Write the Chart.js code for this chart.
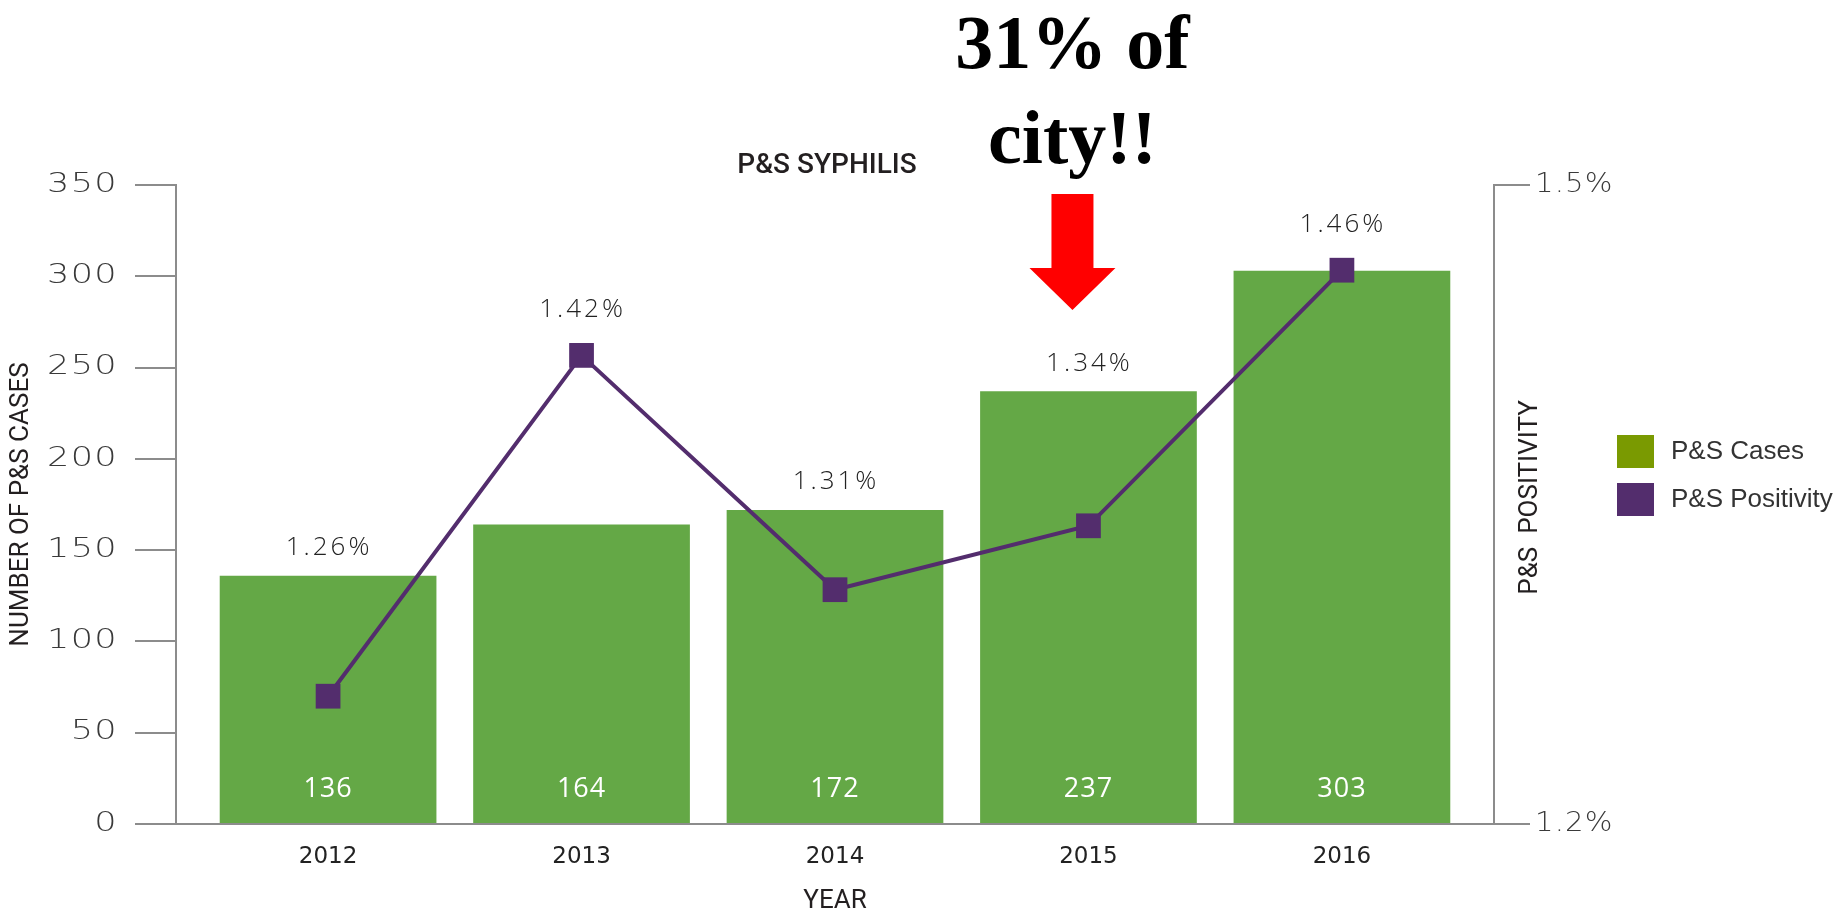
<!DOCTYPE html>
<html>
<head>
<meta charset="utf-8">
<script src="https://cdn.jsdelivr.net/npm/chart.js@4.4.1/dist/chart.umd.min.js"></script>
<style>
  html, body { margin: 0; padding: 0; background: #fff; }
  #wrap { width: 1844px; height: 917px; position: relative; }
</style>
</head>
<body>
<div id="wrap"><canvas id="chart"></canvas></div>
<script>
// ===== DATA =====
const years = [2012, 2013, 2014, 2015, 2016];
const cases = [136, 164, 172, 237, 303];
const positivity = [1.26, 1.42, 1.31, 1.34, 1.46];
const caseTicks = [0, 50, 100, 150, 200, 250, 300, 350];
const positivityTicks = [1.2, 1.5];
const seriesNames = ['P&S Cases', 'P&S Positivity'];
const legendColors = ['#7a9a01', '#532d6d'];
const calloutYear = 2015;
const calloutLines = ['31% of', 'city!!'];

const GREEN = '#64a846';
const PURPLE = '#532d6d';
const AXIS = '#8c8c8c';
const INK = '#231f20';

// draw text stretched horizontally (the original uses a wide face)
function wideText(ctx, text, x, y, sx) {
  ctx.save();
  ctx.translate(x, y);
  ctx.scale(sx, 1);
  ctx.fillText(text, 0, 0);
  ctx.restore();
}

// ===== OVERLAY: labels, titles, legend, callout =====
const overlay = {
  id: 'overlay',
  afterDatasetsDraw(chart) {
    const { ctx, scales: { x, y, y1 } } = chart;
    ctx.save();
    ctx.textAlign = 'center';
    ctx.textBaseline = 'middle';

    // counts inside bars
    ctx.fillStyle = '#fff';
    ctx.font = '500 27px "Open Sans"';
    ctx.letterSpacing = '1px';
    years.forEach((yr, i) => {
      ctx.fillText(String(cases[i]), x.getPixelForValue(yr), y.getPixelForValue(0) - 35);
    });

    // positivity labels, above whichever is higher: bar or marker
    ctx.fillStyle = '#222';
    ctx.font = '300 26px "Open Sans"';
    ctx.letterSpacing = '3px';
    years.forEach((yr, i) => {
      const ly = Math.min(y.getPixelForValue(cases[i]) - 28, y1.getPixelForValue(positivity[i]) - 46);
      ctx.fillText(positivity[i].toFixed(2) + '%', x.getPixelForValue(yr) + 1, ly);
    });
    ctx.restore();
  },
  afterDraw(chart) {
    const { ctx, chartArea: a, scales: { x, y, y1 } } = chart;
    ctx.save();
    ctx.textBaseline = 'middle';

    // y tick labels
    ctx.fillStyle = '#3a3a3a';
    ctx.font = '300 26px "DejaVu Sans"';
    ctx.letterSpacing = '1px';
    ctx.textAlign = 'right';
    y.ticks.forEach(t => wideText(ctx, String(t.value), a.left - 58, y.getPixelForValue(t.value), 1.35));
    ctx.textAlign = 'left';
    y1.ticks.forEach(t => wideText(ctx, t.value.toFixed(1) + '%', a.right + 41, y1.getPixelForValue(t.value), 1.12));
    ctx.letterSpacing = '0px';

    // chart title
    ctx.textAlign = 'center';
    ctx.fillStyle = INK;
    ctx.font = '500 28px Roboto';
    ctx.fillText('P&S SYPHILIS', (a.left + a.right) / 2 - 8, a.top - 19);

    // right axis title (sits inside the tick label band)
    ctx.save();
    ctx.translate(a.right + 36, (a.top + a.bottom) / 2 - 7);
    ctx.rotate(-Math.PI / 2);
    ctx.font = '26px Roboto';
    ctx.fillText('P&S  POSITIVITY', 0, 0);
    ctx.restore();

    // legend
    ctx.textAlign = 'left';
    ctx.font = '26px "Liberation Sans"';
    seriesNames.forEach((name, i) => {
      const top = a.top + 250 + i * 48;
      ctx.fillStyle = legendColors[i];
      ctx.fillRect(a.right + 123, top, 37, 33);
      ctx.fillStyle = '#333';
      ctx.fillText(name, a.right + 177, top + 17);
    });

    // callout text + arrow
    const cx = x.getPixelForValue(calloutYear) - 16;
    ctx.textBaseline = 'alphabetic';
    ctx.textAlign = 'center';
    ctx.fillStyle = '#000';
    ctx.font = 'bold 76px "Liberation Serif"';
    ctx.fillText(calloutLines[0], cx, 68);
    ctx.fillText(calloutLines[1], cx, 163);

    ctx.fillStyle = '#ff0000';
    ctx.beginPath();
    ctx.moveTo(cx - 21, 194);
    ctx.lineTo(cx + 21, 194);
    ctx.lineTo(cx + 21, 268);
    ctx.lineTo(cx + 43, 268);
    ctx.lineTo(cx, 310);
    ctx.lineTo(cx - 43, 268);
    ctx.lineTo(cx - 21, 268);
    ctx.closePath();
    ctx.fill();
    ctx.restore();
  }
};

// ===== CHART =====
const ctx = document.getElementById('chart').getContext('2d');

new Chart(ctx, {
  type: 'bar',
  data: {
    datasets: [
      {
        type: 'line',
        label: seriesNames[1],
        data: years.map((yr, i) => ({ x: yr, y: positivity[i] })),
        yAxisID: 'y1',
        borderColor: PURPLE,
        borderWidth: 4,
        pointStyle: 'rect',
        pointRadius: 17.5,
        pointBorderWidth: 0,
        pointBackgroundColor: PURPLE,
        tension: 0,
        order: 0,
      },
      {
        label: seriesNames[0],
        data: years.map((yr, i) => ({ x: yr, y: cases[i] })),
        yAxisID: 'y',
        backgroundColor: GREEN,
        barPercentage: 0.855,
        categoryPercentage: 1,
        order: 1,
      }
    ]
  },
  options: {
    responsive: true,
    maintainAspectRatio: false,
    animation: false,
    layout: { padding: { top: 185, left: 0, right: 0, bottom: 0 } },
    plugins: {
      legend: { display: false },
      tooltip: { enabled: false },
    },
    scales: {
      x: {
        type: 'linear',
        position: 'bottom',
        min: 2011.4,
        max: 2016.6,
        offset: false,
        afterBuildTicks: s => { s.ticks = years.map(v => ({ value: v })); },
        afterFit: s => { s.height = 93; },
        grid: { display: false, drawTicks: false, offset: false },
        border: { display: true, color: AXIS, width: 2 },
        ticks: {
          padding: 19,
          color: '#222',
          font: { family: 'DejaVu Sans', size: 23 },
          callback: v => String(v),
        },
        title: {
          display: true,
          text: 'YEAR',
          color: INK,
          font: { family: 'Roboto', size: 26 },
          padding: { top: 0, bottom: 0 },
        }
      },
      y: {
        type: 'linear',
        position: 'left',
        min: 0,
        max: 350,
        afterBuildTicks: s => { s.ticks = caseTicks.map(v => ({ value: v })); },
        afterFit: s => { s.width = 176; },
        grid: { drawOnChartArea: false, drawTicks: true, tickLength: 41, color: AXIS, lineWidth: 2 },
        border: { display: true, color: AXIS, width: 2 },
        ticks: { display: false },
        title: {
          display: true,
          text: 'NUMBER OF P&S CASES',
          color: INK,
          font: { family: 'Roboto', size: 26 },
          padding: { top: 6, bottom: 0 },
        }
      },
      y1: {
        type: 'linear',
        position: 'right',
        min: 1.2,
        max: 1.5,
        afterBuildTicks: s => { s.ticks = positivityTicks.map(v => ({ value: v })); },
        afterFit: s => { s.width = 350; },
        grid: { drawOnChartArea: false, drawTicks: true, tickLength: 36, color: AXIS, lineWidth: 2 },
        border: { display: true, color: AXIS, width: 2 },
        ticks: { display: false }
      }
    }
  },
  plugins: [overlay]
});
</script>
</body>
</html>
